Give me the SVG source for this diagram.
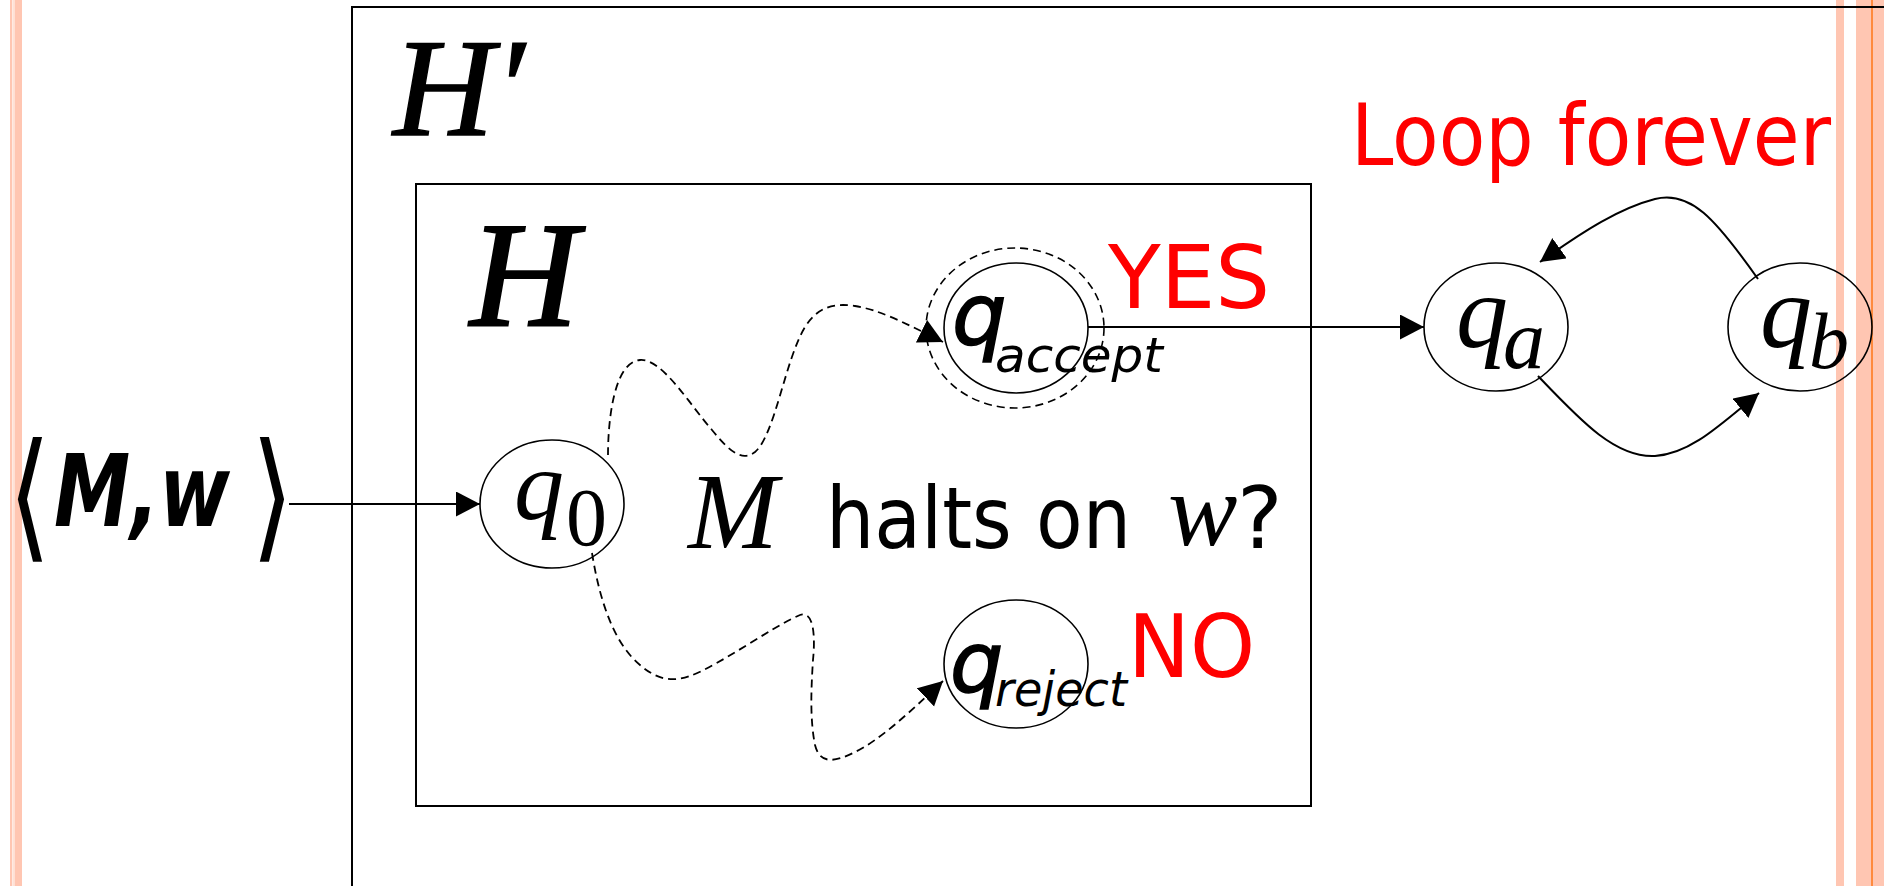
<svg xmlns="http://www.w3.org/2000/svg" width="1884" height="886" viewBox="0 0 1884 886">
<defs>
<marker id="arr" markerUnits="userSpaceOnUse" markerWidth="26" markerHeight="26" refX="24" refY="12.5" orient="auto" viewBox="0 0 26 26"><path d="M0,0 L24,12.5 L0,25 z" fill="#000"/></marker>
</defs>
<style>
.box{fill:none;stroke:#000;stroke-width:2}
.st{fill:none;stroke:#000;stroke-width:1.6}
.dash{fill:none;stroke:#000;stroke-width:1.8;stroke-dasharray:8 5}
.conn{fill:none;stroke:#000;stroke-width:2}
.tm{font-family:"Liberation Serif","Times New Roman",serif;font-style:italic;fill:#000}
.tr{font-family:"Liberation Serif","Times New Roman",serif;fill:#000}
.cm{font-family:"DejaVu Sans",sans-serif;fill:#000}
.big{stroke:#000;stroke-width:1.4}
.red{fill:#ff0000}
.peach{fill:#ffc6b2}
</style>
<rect x="0" y="0" width="1884" height="886" fill="#fff"/>
<g id="decor">
<rect class="peach" x="10" y="0" width="2.3" height="886"/>
<rect x="12.7" y="0" width="2" height="886" fill="#ffe2d6"/>
<rect class="peach" x="14.7" y="0" width="7.3" height="886"/>
<rect class="peach" x="1836" y="0" width="8" height="886"/>
<rect class="peach" x="1856" y="0" width="28" height="886"/>
<rect x="1871" y="0" width="2" height="886" fill="#ff8a3d"/>
</g>
<g id="Hprime">
<path class="box" d="M1884,7 H352 V886"/>
<text class="tm big" x="393" y="135" font-size="140">H′</text>
</g>
<g id="H">
<rect class="box" x="416" y="184" width="895" height="622"/>
<text class="tm big" x="470" y="325" font-size="150" style="stroke-width:2.2">H</text>
</g>
<g id="input">
<text class="cm" transform="translate(8,543) scale(1.1,1.4)" x="0" y="0" font-size="100">⟨</text>
<text class="cm" x="54" y="526" font-size="100" font-weight="bold" font-style="italic" textLength="176" lengthAdjust="spacingAndGlyphs">M,w</text>
<text class="cm" transform="translate(251,543) scale(1.1,1.4)" x="0" y="0" font-size="100">⟩</text>
</g>
<g id="q0">
<ellipse class="st" cx="552" cy="504" rx="72" ry="64"/>
<text class="tm" x="514" y="519" font-size="100">q<tspan class="tr" x="566" y="545" font-size="82" font-style="normal">0</tspan></text>
</g>
<g id="qaccept">
<ellipse class="dash" cx="1015" cy="328" rx="89" ry="80" style="stroke-width:1.6"/>
<ellipse class="st" cx="1016" cy="328" rx="72" ry="65"/>
<text class="cm" font-style="italic"><tspan x="952" y="344" font-size="86" stroke="#000" stroke-width="1.5">q</tspan><tspan x="995" y="372" font-size="48" textLength="168" lengthAdjust="spacingAndGlyphs">accept</tspan></text>
</g>
<g id="qreject">
<ellipse class="st" cx="1016" cy="664" rx="72" ry="64"/>
<text class="cm" font-style="italic"><tspan x="950" y="692" font-size="84" stroke="#000" stroke-width="1.5">q</tspan><tspan x="995" y="706" font-size="48" textLength="132" lengthAdjust="spacingAndGlyphs">reject</tspan></text>
</g>
<g id="qa">
<ellipse class="st" cx="1496" cy="327" rx="72" ry="64"/>
<text class="tm" x="1456" y="347" font-size="104">q<tspan x="1503" y="368" font-size="84">a</tspan></text>
</g>
<g id="qb">
<ellipse class="st" cx="1800" cy="327" rx="72" ry="64"/>
<text class="tm" x="1760" y="347" font-size="104">q<tspan x="1809" y="368" font-size="80">b</tspan></text>
</g>
<g id="labels">
<text class="cm red" x="1108" y="308" font-size="88" textLength="162" lengthAdjust="spacingAndGlyphs">YES</text>
<text class="cm red" x="1128" y="677" font-size="88" textLength="127" lengthAdjust="spacingAndGlyphs">NO</text>
<text class="cm red" x="1351" y="165" font-size="86" textLength="480" lengthAdjust="spacingAndGlyphs">Loop forever</text>
</g>
<g id="question">
<text y="548"><tspan class="tm" x="688" font-size="108">M</tspan><tspan class="cm" x="826" font-size="86" textLength="305" lengthAdjust="spacingAndGlyphs">halts on</tspan><tspan class="tm" x="1168" y="545" font-size="104">w</tspan><tspan class="cm" x="1237" y="548" font-size="86">?</tspan></text>
</g>
<g id="connectors">
<line class="conn" x1="289" y1="504" x2="480" y2="504" marker-end="url(#arr)"/>
<line class="conn" x1="1088" y1="327" x2="1424" y2="327" marker-end="url(#arr)"/>
<path class="dash" d="M608,455 C608,420 614,362 640,360 C662,358 690,405 712,430 C730,452 742,462 755,452 C775,435 785,360 805,327 C818,306 835,303 855,306 C880,310 905,323 943,342" marker-end="url(#arr)"/>
<path class="dash" d="M592,553 C598,590 610,640 640,665 C655,678 670,683 690,676 C720,665 770,628 800,615 C815,610 815,640 813,660 C811,690 810,720 815,745 C820,765 835,762 855,752 C880,740 910,712 943,681" marker-end="url(#arr)"/>
<path class="conn" d="M1758,279 C1715,218 1690,190 1655,199 C1620,208 1585,230 1540,262" marker-end="url(#arr)"/>
<path class="conn" d="M1538,376 C1580,420 1615,458 1655,456 C1690,454 1720,425 1759,393" marker-end="url(#arr)"/>
</g>
</svg>
